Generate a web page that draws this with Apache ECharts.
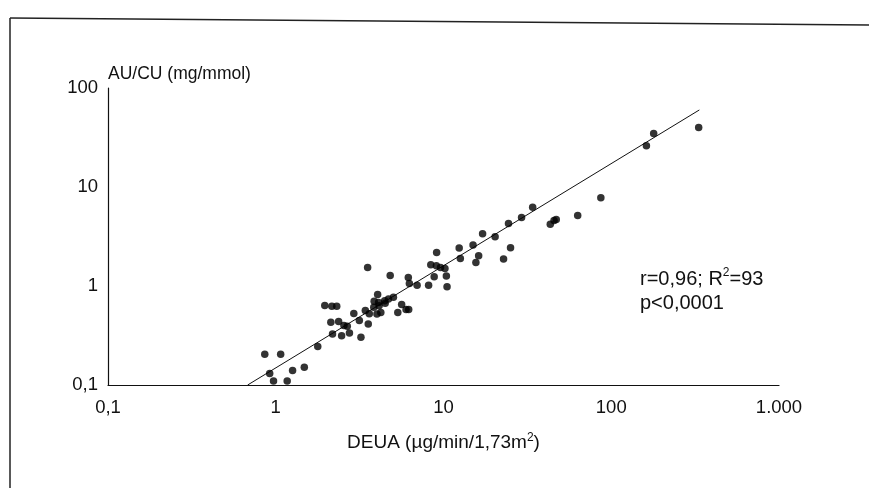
<!DOCTYPE html>
<html>
<head>
<meta charset="utf-8">
<script src="https://cdn.jsdelivr.net/npm/echarts@6/dist/echarts.min.js"></script>
<style>
html,body{margin:0;padding:0;background:#fff;}
#chart{width:869px;height:488px;}
</style>
</head>
<body>
<div id="chart"></div>
<script>
// DEUA (µg/min/1,73m²) values
const deua = [0.86,1.07,0.92,0.97,1.17,1.26,1.48,1.78,1.96,2.16,2.31,2.13,2.18,2.37,2.47,2.55,2.67,2.75,2.92,3.15,3.22,3.42,3.53,3.56,3.61,3.86,4.01,4.05,4.1,4.13,4.23,3.84,4.46,4.49,4.7,5.03,4.81,5.34,5.63,5.98,6.2,6.17,6.26,6.96,8.15,8.4,8.8,9.1,9.07,9.6,10.2,10.4,10.5,12.4,12.6,15.0,15.6,16.2,17.1,20.3,22.8,25.1,24.4,29.2,34.0,43.3,45.6,47.0,63.1,86.7,162,179,332];
// AU/CU (mg/mmol) values
const aucu = [0.205,0.205,0.131,0.11,0.11,0.14,0.151,0.245,0.636,0.626,0.626,0.43,0.328,0.437,0.315,0.398,0.393,0.335,0.527,0.448,0.303,0.566,1.54,0.414,0.523,0.70,0.52,0.82,0.68,0.63,0.54,0.61,0.71,0.67,0.74,0.77,1.28,0.54,0.65,0.58,0.58,1.22,1.06,1.02,1.02,1.64,1.24,2.18,1.6,1.54,1.5,1.26,0.98,2.42,1.9,2.59,1.73,2.02,3.38,3.15,1.87,2.43,4.27,4.92,6.26,4.2,4.58,4.7,5.15,7.79,26.1,34.8,39.8];
// regression line endpoints
const fitX = [0.68, 335];
const fitY = [0.1, 60];
// tick labels
const xTickLabels = ['0,1','1','10','100','1.000'];
const yTickLabels = ['0,1','1','10','100'];
const xName = 'DEUA (µg/min/1,73m{s|2})';
const yName = 'AU/CU (mg/mmol)';
const statLine1 = ['r=0,96; R','2','=93'];
const statLine2 = 'p<0,0001';

const FONT = '"Liberation Sans", Arial, Helvetica, sans-serif';
const chart = echarts.init(document.getElementById('chart'), null, {renderer:'canvas'});
const pts = deua.map((x,i)=>[x, aucu[i]]);
const fit = fitX.map((x,i)=>[x, fitY[i]]);
const idx = v => Math.round(Math.log10(v)) + 1;

chart.setOption({
  animation:false,
  backgroundColor:'#fff',
  grid:{left:108, right:90, top:88, bottom:103},
  xAxis:{
    type:'log', logBase:10, min:0.1, max:1000,
    name:xName, nameLocation:'middle', nameGap:47,
    nameTextStyle:{color:'#111', fontSize:19, fontFamily:FONT,
      rich:{s:{fontSize:12, verticalAlign:'top', padding:[0,0,9,0], color:'#111', fontFamily:FONT}}},
    axisLine:{lineStyle:{color:'#111', width:1.2}},
    axisTick:{show:false},
    splitLine:{show:false},
    minorTick:{show:false},
    axisLabel:{color:'#111', fontSize:18.5, fontFamily:FONT, margin:13,
      formatter:v=>xTickLabels[idx(v)]}
  },
  yAxis:{
    type:'log', logBase:10, min:0.1, max:100,
    name:yName, nameLocation:'end', nameGap:5,
    nameTextStyle:{color:'#111', fontSize:17.5, fontFamily:FONT, align:'left'},
    axisLine:{show:true, lineStyle:{color:'#111', width:1.2}},
    axisTick:{show:false},
    splitLine:{show:false},
    axisLabel:{color:'#111', fontSize:18.5, fontFamily:FONT, margin:10,
      formatter:v=>yTickLabels[idx(v)]}
  },
  series:[
    {type:'scatter', data:pts, symbol:'circle', symbolSize:7.5,
     itemStyle:{color:'#000'}, z:3},
    {type:'line', data:fit, symbol:'none', lineStyle:{color:'#111', width:1}, z:2}
  ],
  graphic:[
    {type:'line', shape:{x1:10,y1:18,x2:869,y2:25}, style:{stroke:'#222', lineWidth:1.5}},
    {type:'line', shape:{x1:10,y1:18,x2:10,y2:488}, style:{stroke:'#222', lineWidth:1.5}},
    {type:'text', left:640, top:267, style:{
      text:'{a|'+statLine1[0]+'}{s|'+statLine1[1]+'}{a|'+statLine1[2]+'}\n{a|'+statLine2+'}',
      rich:{
        a:{fontSize:20, fontFamily:FONT, fill:'#111', lineHeight:24},
        s:{fontSize:12, fontFamily:FONT, fill:'#111', verticalAlign:'top', lineHeight:24, padding:[0,0,9,0]}
      }}}
  ]
});
</script>
</body>
</html>
